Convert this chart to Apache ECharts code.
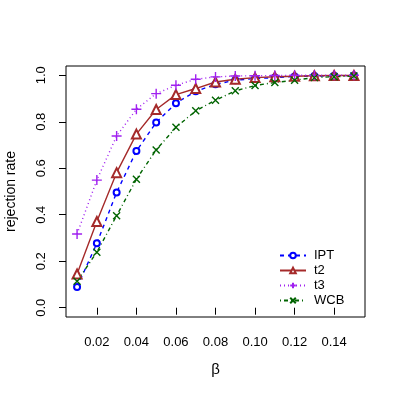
<!DOCTYPE html>
<html>
<head>
<meta charset="utf-8">
<script src="https://cdn.jsdelivr.net/npm/echarts@6/dist/echarts.min.js"></script>
<style>
  html, body { margin: 0; padding: 0; background: #fff; }
  #chart { width: 399px; height: 399px; }
</style>
</head>
<body>
<div id="chart"></div>
<script>
// beta values on x axis
const beta = [0.01, 0.02, 0.03, 0.04, 0.05, 0.06, 0.07, 0.08, 0.09, 0.10, 0.11, 0.12, 0.13, 0.14, 0.15]
const ipt = [0.089, 0.277, 0.496, 0.674, 0.797, 0.880, 0.931, 0.961, 0.979, 0.986, 0.990, 0.995, 0.997, 0.998, 0.999]
const t2 = [0.145, 0.371, 0.581, 0.747, 0.853, 0.917, 0.943, 0.971, 0.983, 0.990, 0.994, 0.996, 0.998, 0.999, 0.999]
const t3 = [0.317, 0.549, 0.739, 0.854, 0.921, 0.957, 0.983, 0.993, 0.997, 0.998, 0.999, 1.0, 1.0, 1.0, 1.0]
const wcb = [0.114, 0.239, 0.396, 0.553, 0.679, 0.776, 0.847, 0.893, 0.933, 0.956, 0.969, 0.979, 0.990, 0.994, 0.997]
const xTicks = [0.02, 0.04, 0.06, 0.08, 0.10, 0.12, 0.14]
const yTicks = [0.0, 0.2, 0.4, 0.6, 0.8, 1.0]

const plusPath = "path://M5,0L5,10M0,5L10,5"
const crossPath = "path://M0,0L10,10M0,10L10,0"

function pairs(ys) {
  return beta.map((b, i) => [b, ys[i]])
}

function makeSeries(name, ys, color, dash, symbol, size) {
  return {
    name: name,
    type: "line",
    data: pairs(ys),
    symbol: symbol,
    symbolSize: size,
    showAllSymbol: true,
    lineStyle: { color: color, width: 1.4, type: dash },
    itemStyle: { color: color, borderColor: color, borderWidth: 1.4 },
    emphasis: { disabled: true },
    animation: false,
  }
}

let myChart = echarts.init(document.getElementById("chart"))
myChart.setOption({
  animation: false,
  textStyle: { fontFamily: "Liberation Sans" },
  grid: {
    left: 66,
    top: 66,
    right: 34,
    bottom: 82,
    show: true,
    borderColor: "#000",
    borderWidth: 1,
    containLabel: false,
    outerBoundsMode: "none",
  },
  legend: {
    orient: "vertical",
    left: 274,
    top: 244,
    itemWidth: 26,
    itemHeight: 7,
    itemGap: 2,
    textStyle: { fontSize: 13, color: "#000", padding: [0, 0, 0, 3] },
    data: ["IPT", "t2", "t3", "WCB"],
  },
  xAxis: {
    type: "value",
    min: 0.0044,
    max: 0.1556,
    name: "β",
    nameLocation: "middle",
    nameGap: 45,
    nameTextStyle: { fontSize: 15, color: "#000" },
    axisLine: { show: false },
    splitLine: { show: false },
    axisTick: {
      show: true,
      length: 7,
      customValues: xTicks,
      lineStyle: { color: "#000" },
    },
    axisLabel: {
      customValues: xTicks,
      margin: 19,
      fontSize: 13,
      color: "#000",
      formatter: (v) => v.toFixed(2),
    },
  },
  yAxis: {
    type: "value",
    min: -0.04,
    max: 1.04,
    name: "rejection rate",
    nameLocation: "middle",
    nameGap: 48,
    nameTextStyle: { fontSize: 14, color: "#000" },
    axisLine: { show: false },
    splitLine: { show: false },
    axisTick: {
      show: true,
      length: 7,
      customValues: yTicks,
      lineStyle: { color: "#000" },
    },
    axisLabel: {
      customValues: yTicks,
      rotate: 90,
      margin: 18,
      fontSize: 13,
      color: "#000",
      formatter: (v) => v.toFixed(1),
    },
  },
  series: [
    makeSeries("IPT", ipt, "#0000FF", [4, 4], "emptyCircle", 6),
    makeSeries("t2", t2, "#A52A2A", "solid", "emptyTriangle", 9),
    makeSeries("t3", t3, "#A020F0", [1, 3], plusPath, 10),
    makeSeries("WCB", wcb, "#006400", [1, 3, 4, 3], crossPath, 7),
  ],
})
</script>
</body>
</html>
